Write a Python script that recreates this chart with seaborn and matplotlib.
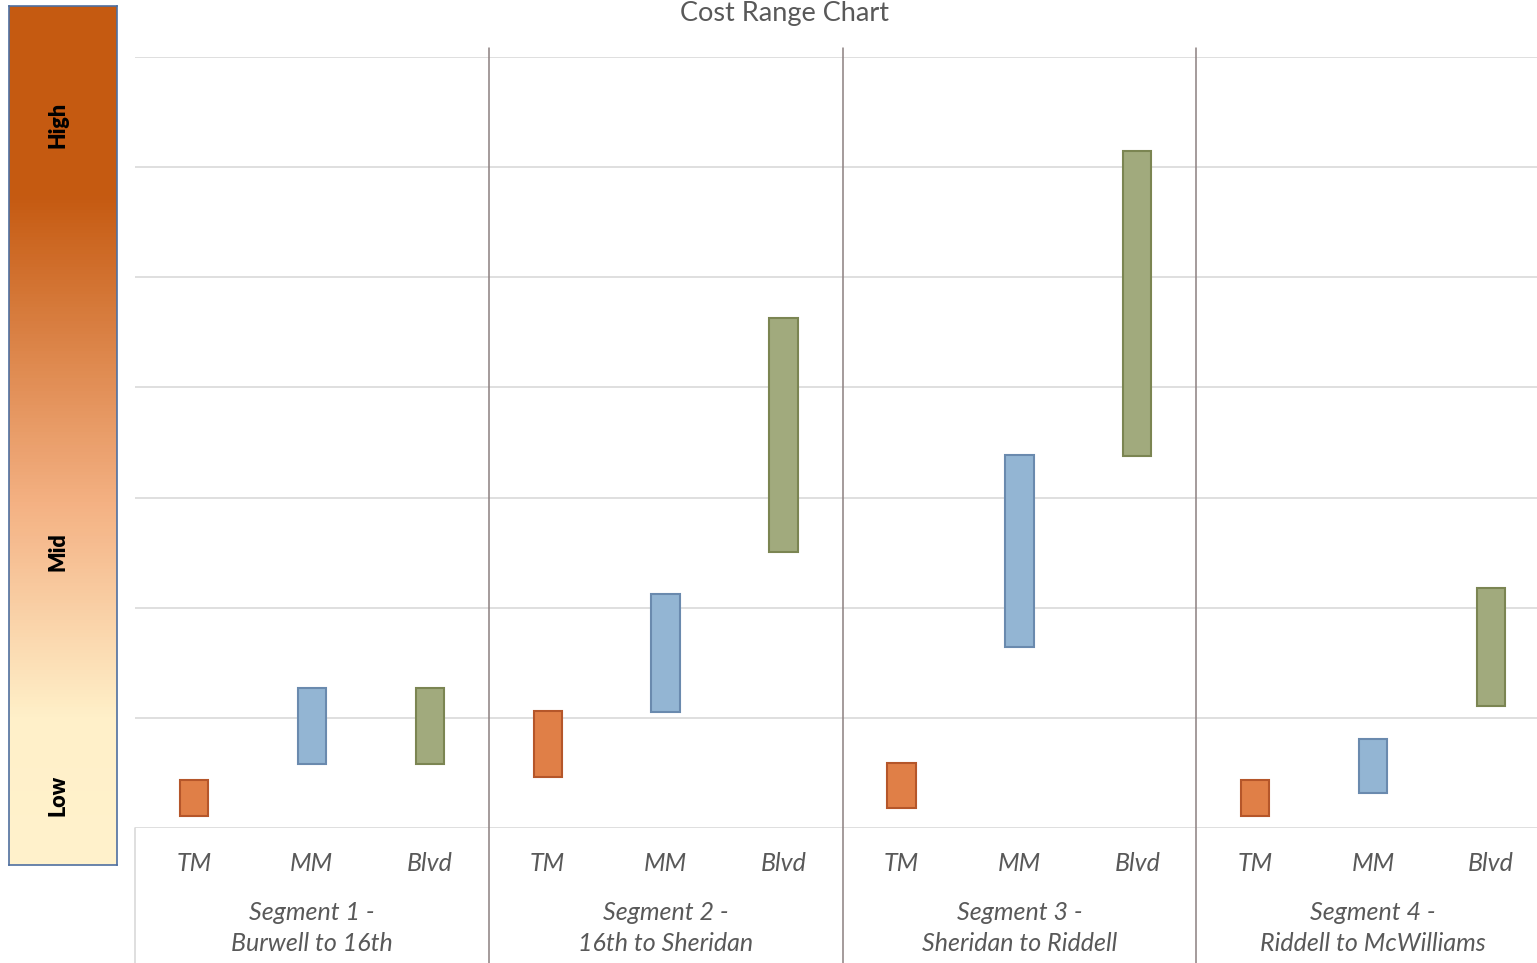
import numpy as np
import pandas as pd
import seaborn as sns
import matplotlib.pyplot as plt
from matplotlib.colors import LinearSegmentedColormap

# --- datos ---
segmentos = ["Segment 1 -\nBurwell to 16th", "Segment 2 -\n16th to Sheridan",
             "Segment 3 -\nSheridan to Riddell", "Segment 4 -\nRiddell to McWilliams"]
modos = ["TM", "MM", "Blvd"]
bajo = [0.11, 0.58, 0.58,
        0.46, 1.05, 2.51,
        0.18, 1.64, 3.38,
        0.11, 0.32, 1.11]
alto = [0.44, 1.27, 1.27,
        1.06, 2.12, 4.63,
        0.59, 3.39, 6.15,
        0.44, 0.81, 2.18]
niveles = ["High", "Mid", "Low"]

relleno = {"TM": "#E07F47", "MM": "#93B5D3", "Blvd": "#A1AA7D"}
borde = {"TM": "#B5562A", "MM": "#6A8AAE", "Blvd": "#7B8552"}

filas = []
for i, seg in enumerate(segmentos):
    for m in modos:
        filas.append({"clave": f"{i}|{m}", "modo": m})
df = pd.DataFrame(filas)
df["bajo"] = bajo
df["alto"] = alto
df["rango"] = df["alto"] - df["bajo"]

sns.set_style("white")
plt.rcParams["font.family"] = ["Lato", "DejaVu Sans"]

fig = plt.figure(figsize=(15.37, 9.63), dpi=100)
W, H = 1537, 963

# barra de degradado a la izquierda
cax = fig.add_axes([9 / W, (H - 865) / H, 108 / W, 859 / H])
cmap = LinearSegmentedColormap.from_list(
    "coste", [(0.0, "#FFF2CC"), (0.17, "#FFF0C9"), (0.42, "#F4B183"),
              (0.78, "#C55A11"), (1.0, "#C55A11")])
grad = np.linspace(0, 1, 256).reshape(-1, 1)
cax.imshow(grad, aspect="auto", cmap=cmap, origin="lower", extent=[0, 1, 0, 1])
cax.set_xticks([])
cax.set_yticks([])
for s in cax.spines.values():
    s.set_color("#4F6FA0")
    s.set_linewidth(1.2)
for txt, yy in zip(niveles, [125, 552, 795]):
    cax.text(0.45, (865 - yy) / 859, txt, rotation=90, ha="center", va="center",
             fontsize=15.5, fontweight="heavy", color="black", transform=cax.transAxes)

# grafico principal
ax = fig.add_axes([135 / W, (H - 828) / H, (1550 - 135) / W, 771 / H])
paleta = {k: relleno[m] for k, m in zip(df["clave"], df["modo"])}
sns.barplot(data=df, x="clave", y="rango", hue="clave", palette=paleta,
            order=list(df["clave"]), hue_order=list(df["clave"]),
            width=0.24, legend=False, saturation=1, ax=ax)
for p, b, m in zip(ax.patches, df["bajo"], df["modo"]):
    p.set_y(b)
    p.set_edgecolor(borde[m])
    p.set_linewidth(1.5)
    p.set_zorder(3)

ax.set_xlim(-0.5, 11.5)
ax.set_ylim(0, 7)
ax.set_yticks(range(8))
ax.set_yticklabels([])
ax.tick_params(left=False, bottom=False)
ax.grid(axis="y", color="#D9D9D9", linewidth=1.2, zorder=0)
ax.set_axisbelow(True)
for s in ax.spines.values():
    s.set_visible(False)
ax.set_xlabel("")
ax.set_ylabel("")
ax.set_xticks(range(12))
ax.set_xticklabels(modos * 4, fontsize=18, style="italic", color="#595959")
ax.tick_params(axis="x", pad=14)

abajo = -135 / 771
for x in [2.5, 5.5, 8.5]:
    ax.axvline(x, ymin=abajo, ymax=(828 - 48) / 771, color="#8C8080",
               linewidth=1.1, clip_on=False, zorder=1)
ax.axvline(-0.5, ymin=abajo, ymax=0, color="#D9D9D9", linewidth=1.2, clip_on=False)

for i, seg in enumerate(segmentos):
    ax.text(3 * i + 1, -(928 - 828) / 771 * 7, seg, ha="center", va="center",
            fontsize=18, style="italic", color="#595959", linespacing=1.38)

fig.text(784 / W, 1 - 13 / H, "Cost Range Chart", ha="center", va="center",
         fontsize=19.5, color="#595959")

fig.savefig("out.png", dpi=100)
